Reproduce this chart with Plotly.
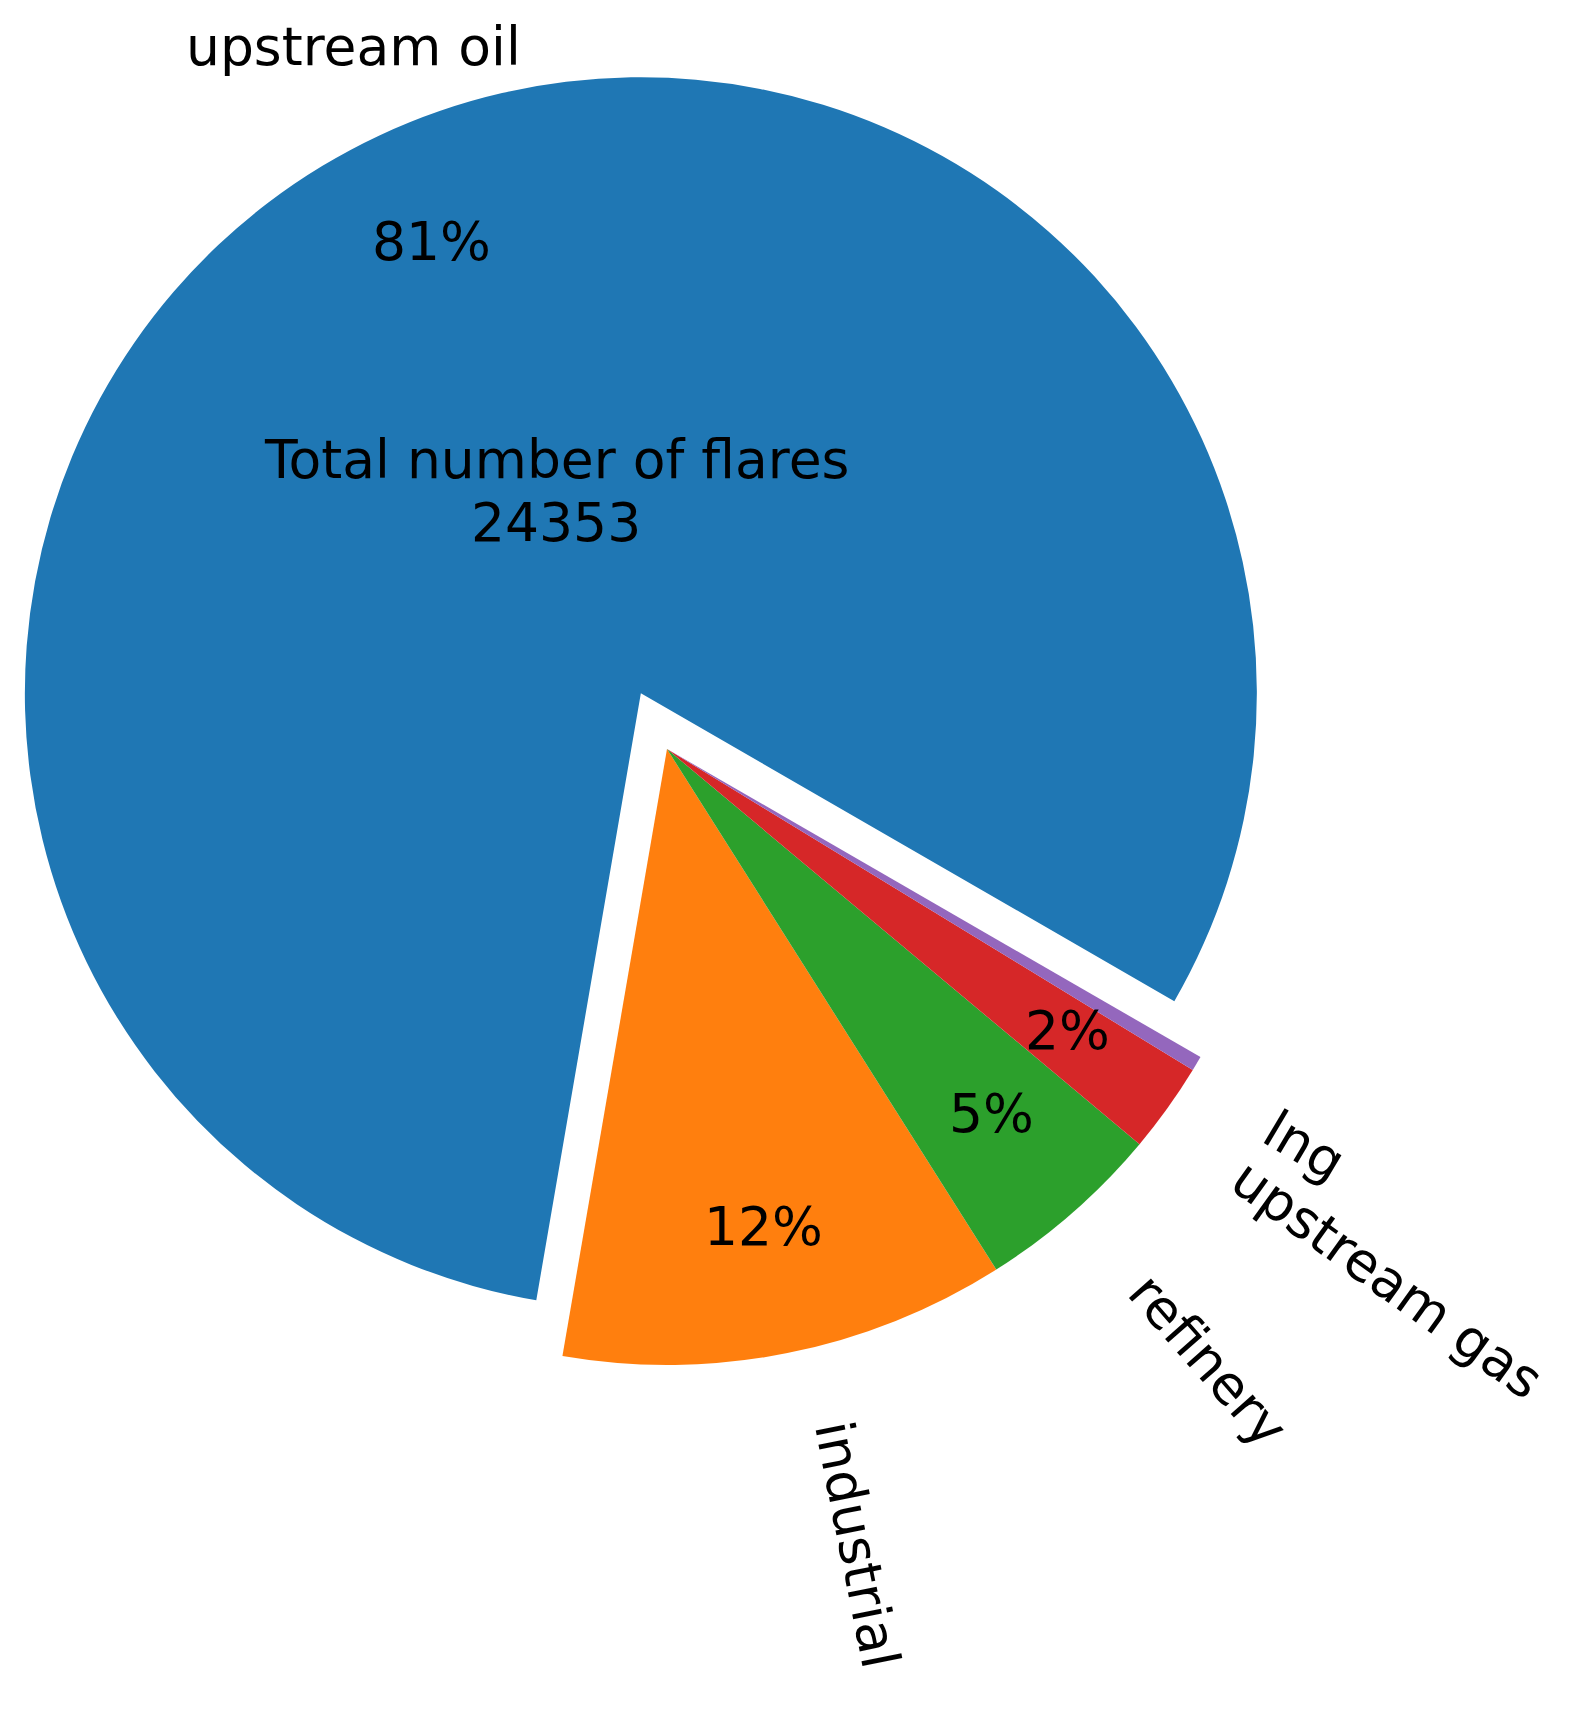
import numpy as np
import plotly.graph_objects as go

# flare counts per category
labels = ['upstream oil', 'industrial', 'refinery', 'upstream gas', 'lng']
counts = [19633, 2847, 1203, 575, 95]
colors = ['#1f77b4', '#ff7f0e', '#2ca02c', '#d62728', '#9467bd']
total_title = 'Total number of flares'

OFF = 8                          # default body margin of the html page
W, H = 1571 - 2 * OFF, 1713 - 2 * OFF
cx, cy = 667 - OFF, 749 - OFF    # pie centre, px inside the figure
R = 616                          # pie radius, px
explode = 0.1                    # only the first wedge is pulled out
start_angle = -30                # degrees, counter-clockwise from 3 o'clock
label_dist = 1.1
pct_dist = 0.8
font = dict(family='DejaVu Sans', size=53.5, color='black')

total = sum(counts)
frac = np.array(counts) / total
edges = start_angle + 360 * np.concatenate([[0], np.cumsum(frac)])
mids = (edges[:-1] + edges[1:]) / 2

# centre of each wedge (the exploded one is shifted along its mid angle)
centres = []
for i, m in enumerate(mids):
    d = explode * R if i == 0 else 0
    t = np.deg2rad(m)
    centres.append((cx + d * np.cos(t), cy - d * np.sin(t)))

# plotly: counter-clockwise pie, boundary of first/second slice sits at `rotation`
rotation = 90 - start_angle - 360 * frac[0]


def dom(px, py):
    return dict(x=[(px - R) / W, (px + R) / W],
                y=[1 - (py + R) / H, 1 - (py - R) / H])


fig = go.Figure()

# exploded wedge drawn in its own shifted pie, the rest in the main one
fig.add_trace(go.Pie(
    labels=labels, values=counts, sort=False, direction='counterclockwise',
    rotation=rotation, textinfo='none', hoverinfo='label+value+percent',
    marker=dict(colors=[colors[0]] + ['rgba(0,0,0,0)'] * (len(counts) - 1),
                line=dict(width=0)),
    domain=dom(*centres[0]), showlegend=False,
))
fig.add_trace(go.Pie(
    labels=labels, values=counts, sort=False, direction='counterclockwise',
    rotation=rotation, textinfo='none', hoverinfo='label+value+percent',
    marker=dict(colors=['rgba(0,0,0,0)'] + colors[1:], line=dict(width=0)),
    domain=dom(cx, cy), showlegend=False,
))

annotations = []
for i, (lab, m) in enumerate(zip(labels, mids)):
    t = np.deg2rad(m)
    px0, py0 = centres[i]
    # percentage text
    pct = 100 * frac[i]
    if round(pct) >= 1:
        annotations.append(dict(
            x=(px0 + pct_dist * R * np.cos(t)) / W,
            y=1 - (py0 - pct_dist * R * np.sin(t)) / H,
            text='%1.0f%%' % pct, showarrow=False, font=font,
            xanchor='center', yanchor='middle', yshift=6))
    # category label
    xt = label_dist * R * np.cos(t)
    yt = label_dist * R * np.sin(t)
    if i == 0:
        annotations.append(dict(
            x=(px0 + xt) / W, y=1 - (py0 - yt) / H, text=lab,
            showarrow=False, font=font, xanchor='center', yanchor='bottom'))
    else:
        rot = m + (0 if xt > 0 else 180)
        annotations.append(dict(
            x=(px0 + xt) / W, y=1 - (py0 - yt) / H, text=lab,
            showarrow=False, font=font, textangle=-rot,
            xanchor='left' if xt > 0 else 'right',
            yanchor='bottom' if yt > 0 else 'top'))

# total in the middle of the big wedge (two lines, matplotlib-like spacing)
for txt, ypx in [(total_title, 459), (str(total), 522)]:
    annotations.append(dict(
        x=(556 - OFF) / W, y=1 - (ypx - OFF) / H, text=txt,
        showarrow=False, font=font, xanchor='center', yanchor='middle'))

fig.update_layout(
    width=W, height=H,
    margin=dict(l=0, r=0, t=0, b=0),
    paper_bgcolor='white', plot_bgcolor='white',
    annotations=annotations,
)

fig.write_html("out.html")
